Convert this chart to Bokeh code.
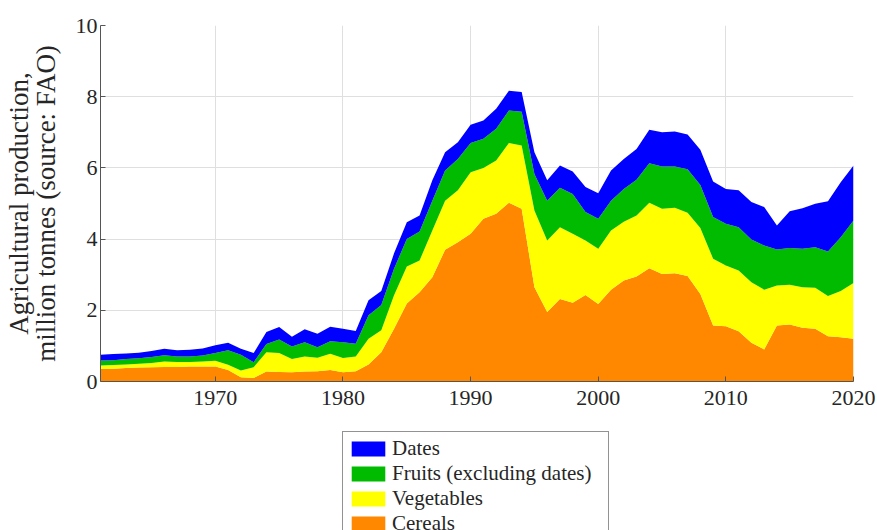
from bokeh.plotting import figure
from bokeh.models import Legend, LegendItem, ColumnDataSource, FixedTicker, Range1d
from bokeh.layouts import column
from bokeh.embed import file_html
from bokeh.resources import INLINE

years = list(range(1961, 2021))

cereals = [0.35, 0.36, 0.38, 0.39, 0.40, 0.41, 0.41, 0.42, 0.42, 0.42,
           0.32, 0.12, 0.10, 0.28, 0.27, 0.26, 0.28, 0.29, 0.32, 0.26,
           0.29, 0.48, 0.82, 1.48, 2.19, 2.51, 2.93, 3.70, 3.91, 4.15,
           4.57, 4.71, 5.02, 4.85, 2.65, 1.95, 2.32, 2.21, 2.43, 2.18,
           2.58, 2.84, 2.95, 3.18, 3.02, 3.04, 2.96, 2.46, 1.57, 1.55,
           1.41, 1.09, 0.90, 1.57, 1.60, 1.51, 1.48, 1.27, 1.24, 1.20]

vegetables = [0.10, 0.10, 0.10, 0.11, 0.12, 0.15, 0.14, 0.13, 0.14, 0.16,
              0.15, 0.19, 0.30, 0.54, 0.53, 0.37, 0.42, 0.38, 0.46, 0.40,
              0.41, 0.72, 0.62, 0.94, 1.04, 0.89, 1.31, 1.38, 1.46, 1.73,
              1.43, 1.50, 1.68, 1.78, 2.15, 2.01, 2.01, 1.94, 1.53, 1.55,
              1.66, 1.65, 1.71, 1.84, 1.83, 1.84, 1.78, 1.85, 1.88, 1.71,
              1.71, 1.70, 1.68, 1.13, 1.12, 1.14, 1.15, 1.13, 1.30, 1.57]

fruits = [0.14, 0.14, 0.15, 0.15, 0.17, 0.18, 0.15, 0.15, 0.17, 0.22,
          0.41, 0.44, 0.14, 0.23, 0.38, 0.35, 0.40, 0.29, 0.35, 0.44,
          0.36, 0.66, 0.71, 0.75, 0.77, 0.81, 0.84, 0.85, 0.88, 0.82,
          0.82, 0.89, 0.91, 0.95, 1.03, 1.12, 1.11, 1.12, 0.80, 0.84,
          0.84, 0.92, 1.01, 1.11, 1.19, 1.16, 1.22, 1.21, 1.17, 1.17,
          1.21, 1.20, 1.24, 1.01, 1.03, 1.08, 1.14, 1.25, 1.51, 1.75]

dates = [0.16, 0.17, 0.16, 0.16, 0.17, 0.18, 0.18, 0.19, 0.20, 0.22,
         0.21, 0.17, 0.26, 0.34, 0.35, 0.28, 0.37, 0.38, 0.41, 0.38,
         0.36, 0.42, 0.39, 0.43, 0.47, 0.45, 0.57, 0.51, 0.47, 0.51,
         0.51, 0.56, 0.56, 0.55, 0.61, 0.57, 0.63, 0.63, 0.70, 0.72,
         0.85, 0.84, 0.86, 0.94, 0.96, 0.98, 0.98, 0.99, 1.00, 0.98,
         1.04, 1.05, 1.08, 0.67, 1.03, 1.14, 1.22, 1.41, 1.55, 1.55]

series_names = ["cereals", "vegetables", "fruits", "dates"]
series_labels = ["Cereals", "Vegetables", "Fruits (excluding dates)", "Dates"]
series_colors = ["#FF8800", "#FFFF00", "#00BB00", "#0000FF"]
x_ticks = [1970, 1980, 1990, 2000, 2010, 2020]
y_ticks = [0, 2, 4, 6, 8, 10]

src = ColumnDataSource(dict(year=years, cereals=cereals, vegetables=vegetables,
                            fruits=fruits, dates=dates))

FONT = "Liberation Serif"
TXT = "#262626"

# ---- main chart ----
p = figure(width=877, height=430, output_backend="svg", toolbar_location=None,
           x_range=Range1d(1961, 2020), y_range=Range1d(0, 10),
           min_border_left=100, min_border_right=24, min_border_top=25,
           min_border_bottom=49)
p.outline_line_color = None
p.background_fill_color = "white"
p.border_fill_color = "white"

rs = p.varea_stack(series_names, x="year", color=series_colors, source=src)

for ax in (p.xaxis[0], p.yaxis[0]):
    ax.axis_line_color = "#555555"
    ax.major_tick_line_color = "#555555"
    ax.major_tick_in = 5
    ax.major_tick_out = 0
    ax.minor_tick_line_color = None
    ax.major_label_text_font = FONT
    ax.major_label_text_font_size = "22px"
    ax.major_label_text_color = TXT

p.xaxis.ticker = FixedTicker(ticks=x_ticks)
p.yaxis.ticker = FixedTicker(ticks=y_ticks)
p.xaxis.major_label_standoff = 9
p.yaxis.major_label_standoff = 3

p.yaxis.axis_label = "Agricultural production,\nmillion tonnes (source: FAO)"
p.yaxis.axis_label_text_font = FONT
p.yaxis.axis_label_text_font_size = "27px"
p.yaxis.axis_label_text_font_style = "normal"
p.yaxis.axis_label_text_color = TXT
p.yaxis.axis_label_text_line_height = 0.9
p.yaxis.axis_label_standoff = 12

p.xgrid.ticker = FixedTicker(ticks=x_ticks)
p.ygrid.ticker = FixedTicker(ticks=y_ticks)
p.grid.grid_line_color = "#dfdfdf"
p.grid.grid_line_width = 1

# ---- legend strip below the chart (its frame is aligned with the chart's frame) ----
q = figure(width=877, height=100, output_backend="svg", toolbar_location=None,
           x_range=Range1d(5000, 5001), y_range=Range1d(0, 1),
           min_border=0, x_axis_location=None, y_axis_location=None)
q.outline_line_color = None
q.grid.visible = False
q.background_fill_color = "white"
q.border_fill_color = "white"
rq = q.varea_stack(series_names, x="year", color=series_colors, source=src)

items = [LegendItem(label=series_labels[i], renderers=[rq[i]]) for i in (3, 2, 1, 0)]
legend = Legend(items=items, location=(242, -11), orientation="vertical")
legend.label_text_font = FONT
legend.label_text_font_size = "21px"
legend.label_text_color = TXT
legend.glyph_width = 42
legend.glyph_height = 19
legend.label_height = 19
legend.label_width = 212
legend.spacing = 0
legend.padding = 4
legend.margin = 0
legend.label_standoff = 3
legend.border_line_color = "#262626"
legend.border_line_width = 1
legend.background_fill_color = "white"
legend.background_fill_alpha = 1
q.add_layout(legend, "center")

open("out.html", "w").write(file_html(column(p, q, spacing=0), INLINE))
